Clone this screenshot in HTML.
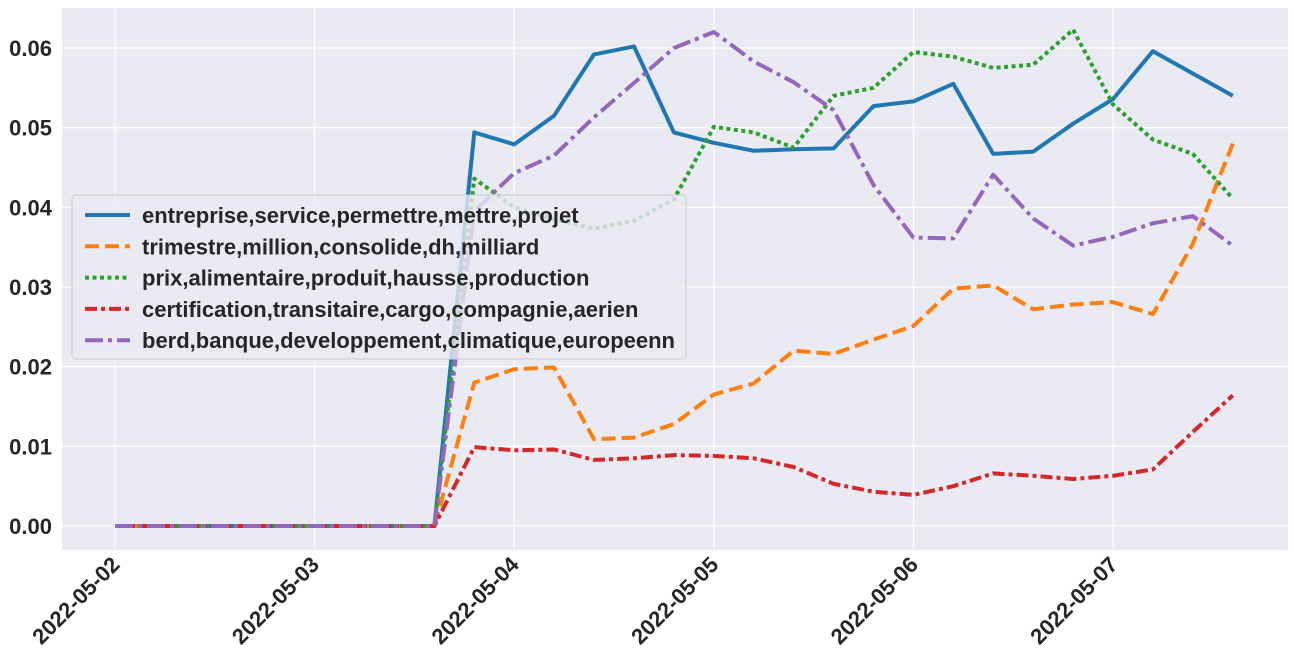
<!DOCTYPE html>
<html><head><meta charset="utf-8"><style>
body{margin:0;background:#fff;}
svg text{font-family:"Liberation Sans",Arial,sans-serif;font-weight:bold;fill:#262626;}
</style></head><body>
<svg id="chart" width="1294" height="661" xmlns="http://www.w3.org/2000/svg">
<rect x="62" y="8" width="1226" height="542" fill="#eaeaf2"/>
<g id="grid"></g><g id="axes"></g><g id="lines"></g><g id="legend"></g>
</svg>
<script>
const dayOffsets=[0,0.2,0.4,0.6,0.8,1,1.2,1.4,1.6,1.8,2,2.2,2.4,2.6,2.8,3,3.2,3.4,3.6,3.8,4,4.2,4.4,4.6,4.8,5,5.2,5.4,5.6];
const z=[0,0,0,0,0,0,0,0,0];
const seriesEntreprise=z.concat([0.0494,0.0479,0.0515,0.0592,0.0602,0.0494,0.0481,0.0471,0.0473,0.0474,0.0527,0.0533,0.0555,0.0467,0.0470,0.0505,0.0536,0.0596,0.0568,0.0540]);
const seriesTrimestre=z.concat([0.018,0.0197,0.0199,0.0109,0.0111,0.0128,0.0165,0.0179,0.0220,0.0216,0.0234,0.0251,0.0298,0.0302,0.0272,0.0278,0.0281,0.0266,0.0354,0.0480]);
const seriesPrix=z.concat([0.0436,0.0400,0.0385,0.0373,0.0383,0.0410,0.0501,0.0494,0.0475,0.0540,0.0550,0.0595,0.0589,0.0575,0.0579,0.0623,0.0529,0.0485,0.0467,0.0411]);
const seriesCertification=z.concat([0.0099,0.0095,0.0096,0.0083,0.0085,0.0089,0.0088,0.0085,0.0074,0.0053,0.0043,0.0039,0.0050,0.0066,0.0063,0.0059,0.0063,0.0071,0.0118,0.0164]);
const seriesBerd=z.concat([0.0395,0.0443,0.0465,0.0513,0.0556,0.0600,0.0620,0.0583,0.0557,0.0522,0.0428,0.0362,0.0361,0.0441,0.0386,0.0352,0.0363,0.0380,0.0389,0.0352]);
const seriesNames=["entreprise,service,permettre,mettre,projet","trimestre,million,consolide,dh,milliard","prix,alimentaire,produit,hausse,production","certification,transitaire,cargo,compagnie,aerien","berd,banque,developpement,climatique,europeenn"];
const yTicks=[0,0.01,0.02,0.03,0.04,0.05,0.06];
const yTickLabels=["0.00","0.01","0.02","0.03","0.04","0.05","0.06"];
const xTicks=[0,1,2,3,4,5];
const xTickLabels=["2022-05-02","2022-05-03","2022-05-04","2022-05-05","2022-05-06","2022-05-07"];

const NS="http://www.w3.org/2000/svg";
const xs=d=>115+d*199.6;
const ys=v=>526-v*7967;
function mk(tag,attrs,parent){const e=document.createElementNS(NS,tag);for(const k in attrs)e.setAttribute(k,attrs[k]);parent.appendChild(e);return e;}
const grid=document.getElementById('grid'),axes=document.getElementById('axes'),lines=document.getElementById('lines'),legend=document.getElementById('legend');
yTicks.forEach((v,i)=>{
 const l=mk('line',{x1:62,x2:1288,y1:ys(v),y2:ys(v),stroke:'#fff','stroke-width':1.2},grid);
 
 
 const t=mk('text',{x:52,y:ys(v)+8,'text-anchor':'end','font-size':22},axes);
 t.textContent=yTickLabels[i];
 
 
});
xTicks.forEach((d,i)=>{
 const l=mk('line',{x1:xs(d),x2:xs(d),y1:8,y2:550,stroke:'#fff','stroke-width':1.2},grid);
 
 
 const x=xs(d)+6,y=566;
 const t=mk('text',{x:x,y:y,'text-anchor':'end','font-size':22,transform:`rotate(-45 ${x} ${y})`},axes);
 t.textContent=xTickLabels[i];
 
 
});
const styles=[
 {c:'#1f77b4',d:''},{c:'#ff7f0e',d:'14,6'},{c:'#2ca02c',d:'4,3.5'},{c:'#d62728',d:'12,4,4,4'},{c:'#9467bd',d:'18,5,4,5'}];
const allSeries=[seriesEntreprise,seriesTrimestre,seriesPrix,seriesCertification,seriesBerd];
allSeries.forEach((s,i)=>{
 const pts=s.map((v,j)=>xs(dayOffsets[j]).toFixed(1)+','+ys(v).toFixed(1)).join(' ');
 const p=mk('polyline',{points:pts,fill:'none',stroke:styles[i].c,'stroke-width':4,'stroke-dasharray':styles[i].d,'stroke-linejoin':'round'},lines);
 
 
});
const box=mk('rect',{x:72,y:195,width:614,height:164,rx:4,fill:'#eaeaf2','fill-opacity':0.8,stroke:'#ccc'},legend);


seriesNames.forEach((n,i)=>{
 const y=215+i*31.3;
 const l=mk('line',{x1:85,x2:130,y1:y,y2:y,stroke:styles[i].c,'stroke-width':4,'stroke-dasharray':styles[i].d},legend);
 
 
 const t=mk('text',{x:142,y:y+8,'font-size':22},legend);
 t.textContent=n;
 
 
});
</script>
</body></html>
